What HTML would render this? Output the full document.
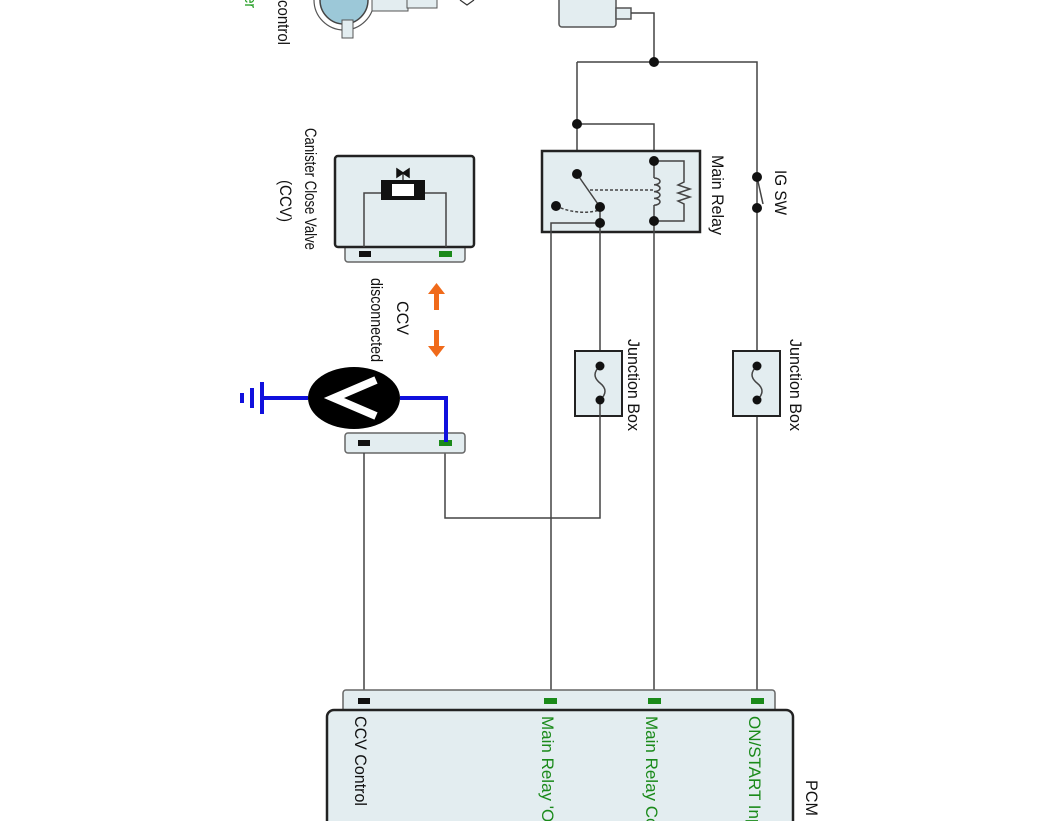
<!DOCTYPE html>
<html><head><meta charset="utf-8"><style>
html,body{margin:0;padding:0;background:#fff;}
svg{display:block;}
text{font-family:"Liberation Sans",sans-serif;}
</style></head><body>
<svg width="1062" height="821" viewBox="0 0 1062 821" xmlns="http://www.w3.org/2000/svg">
<g fill="none" stroke="#444" stroke-width="1.5">
<rect x="559" y="-5" width="57" height="32" rx="3" fill="#e3edf0" stroke="#555"/>
<rect x="616" y="8" width="15" height="11" fill="#e3edf0" stroke="#555"/>
<path d="M631 13 H654 V62"/>
<path d="M577 62 H757 V700"/>
<path d="M577 62 V174"/>
<path d="M577 124 H654 V161"/>
<rect x="542" y="151" width="158" height="81" fill="#e3edf0" stroke="#222" stroke-width="2.5"/>
<path d="M577 174 L600 207"/>
<path d="M556 206 Q578 216 600 210" stroke-dasharray="3,2"/>
<path d="M590 190 H654" stroke-dasharray="3,2"/>
<path d="M551 700 V223 H600"/>
<path d="M600 207 V351"/>
<path d="M654 161 V178 M654 205 V221 V700"/>
<path d="M654 178 a6 3.4 0 0 1 0 6.8 a6 3.4 0 0 1 0 6.8 a6 3.4 0 0 1 0 6.8 a6 3.4 0 0 1 0 6.8"/>
<path d="M654 161 H684 V182 L678 185 L690 189 L678 193 L690 197 L678 201 L684 204 V221 H654"/>
<path d="M757 177 L763 204"/>
<rect x="575" y="351" width="47" height="65" fill="#e3edf0" stroke="#222" stroke-width="2"/>
<path d="M600 366 Q590 375 600 383 Q610 391 600 400"/>
<path d="M600 400 V518 H445 V453"/>
<rect x="733" y="351" width="47" height="65" fill="#e3edf0" stroke="#222" stroke-width="2"/>
<path d="M757 366 Q747 375 757 383 Q767 391 757 400"/>
<rect x="345" y="240" width="120" height="22" rx="3" fill="#e3edf0" stroke="#666"/>
<rect x="335" y="156" width="139" height="91" rx="3" fill="#e3edf0" stroke="#222" stroke-width="2.5"/>
<path d="M364 247 V193 H381 M425 193 H446 V247"/>
<rect x="381" y="180" width="44" height="20" fill="#111" stroke="none"/>
<rect x="392" y="184" width="22" height="12" fill="#fff" stroke="none"/>
<path d="M403 180 V173"/>
<path d="M397 169 L403 173 L397 177 Z M409 169 L403 173 L409 177 Z" fill="#111" stroke="#111"/>
<rect x="345" y="433" width="120" height="20" rx="3" fill="#e3edf0" stroke="#666"/>
<path d="M364 453 V700"/>
<rect x="343" y="690" width="432" height="30" rx="3" fill="#e3edf0" stroke="#666"/>
<rect x="327" y="710" width="466" height="130" rx="7" fill="#e3edf0" stroke="#222" stroke-width="2.5"/>
</g>
<g fill="#111">
<circle cx="654" cy="62" r="5"/><circle cx="577" cy="124" r="5"/>
<circle cx="577" cy="174" r="5"/><circle cx="600" cy="207" r="5"/><circle cx="556" cy="206" r="5"/><circle cx="600" cy="223" r="5"/>
<circle cx="654" cy="161" r="5"/><circle cx="654" cy="221" r="5"/>
<circle cx="757" cy="177" r="5"/><circle cx="757" cy="208" r="5"/>
<circle cx="600" cy="366" r="4.5"/><circle cx="600" cy="400" r="4.5"/>
<circle cx="757" cy="366" r="4.5"/><circle cx="757" cy="400" r="4.5"/>
</g>
<rect x="359" y="251" width="12" height="6" fill="#111"/><rect x="439" y="251" width="13" height="6" fill="#1a8a1a"/>
<rect x="358" y="440" width="12" height="6" fill="#111"/><rect x="439" y="440" width="13" height="6" fill="#1a8a1a"/>
<rect x="358" y="698" width="12" height="6" fill="#111"/>
<rect x="544" y="698" width="13" height="6" fill="#1a8a1a"/>
<rect x="648" y="698" width="13" height="6" fill="#1a8a1a"/>
<rect x="751" y="698" width="13" height="6" fill="#1a8a1a"/>
<g stroke="#1010dd" stroke-width="4" fill="none">
<path d="M400 398 H446 V442"/>
<path d="M308 398 H262"/>
<path d="M262 382 V414 M252 388 V408 M242 393 V403"/>
</g>
<ellipse cx="354" cy="398" rx="46" ry="31" fill="#000"/>
<path d="M376 380 L334 398 L376 416" fill="none" stroke="#fff" stroke-width="8"/>
<g fill="#f06a1a">
<rect x="434" y="292" width="5" height="18"/><path d="M428 294 L436.5 283 L445 294Z"/>
<rect x="434" y="330" width="5" height="18"/><path d="M428 346 L436.5 357 L445 346Z"/>
</g>
<circle cx="344" cy="0" r="30" fill="none" stroke="#555" stroke-width="1.2"/>
<circle cx="344" cy="0" r="24" fill="#9cc8d8" stroke="#444" stroke-width="1.5"/>
<rect x="342" y="20" width="11" height="18" fill="#e3edf0" stroke="#555"/>
<rect x="372" y="-5" width="36" height="16" fill="#e3edf0" stroke="#555"/>
<rect x="407" y="-5" width="30" height="13" fill="#e3edf0" stroke="#555"/>
<path d="M460 0 L467 5 L474 0" fill="none" stroke="#333" stroke-width="1.2"/>
<g font-size="17" fill="#111">
<text transform="translate(278,0) rotate(90)" textLength="45" lengthAdjust="spacingAndGlyphs">control</text>
<text transform="translate(245,-4) rotate(90)" fill="#1a9a1a" textLength="12" lengthAdjust="spacingAndGlyphs">er</text>
<text transform="translate(305,128) rotate(90)" textLength="122" lengthAdjust="spacingAndGlyphs">Canister Close Valve</text>
<text transform="translate(280,180) rotate(90)" textLength="42" lengthAdjust="spacingAndGlyphs">(CCV)</text>
<text transform="translate(397,301) rotate(90)" textLength="34" lengthAdjust="spacingAndGlyphs">CCV</text>
<text transform="translate(371,278) rotate(90)" textLength="84" lengthAdjust="spacingAndGlyphs">disconnected</text>
<text transform="translate(628,339) rotate(90)" textLength="92" lengthAdjust="spacingAndGlyphs">Junction Box</text>
<text transform="translate(790,339) rotate(90)" textLength="92" lengthAdjust="spacingAndGlyphs">Junction Box</text>
<text transform="translate(712,155) rotate(90)" textLength="80" lengthAdjust="spacingAndGlyphs">Main Relay</text>
<text transform="translate(775,170) rotate(90)" textLength="45" lengthAdjust="spacingAndGlyphs">IG SW</text>
<text transform="translate(806,780) rotate(90)" textLength="36" lengthAdjust="spacingAndGlyphs">PCM</text>
<text transform="translate(355,716) rotate(90)" textLength="90" lengthAdjust="spacingAndGlyphs">CCV Control</text>
<g fill="#1a8a1a">
<text transform="translate(542,716) rotate(90)">Main Relay 'ON'</text>
<text transform="translate(646,716) rotate(90)">Main Relay Control</text>
<text transform="translate(749,716) rotate(90)">ON/START Input</text>
</g>
</g>
</svg>
</body></html>
